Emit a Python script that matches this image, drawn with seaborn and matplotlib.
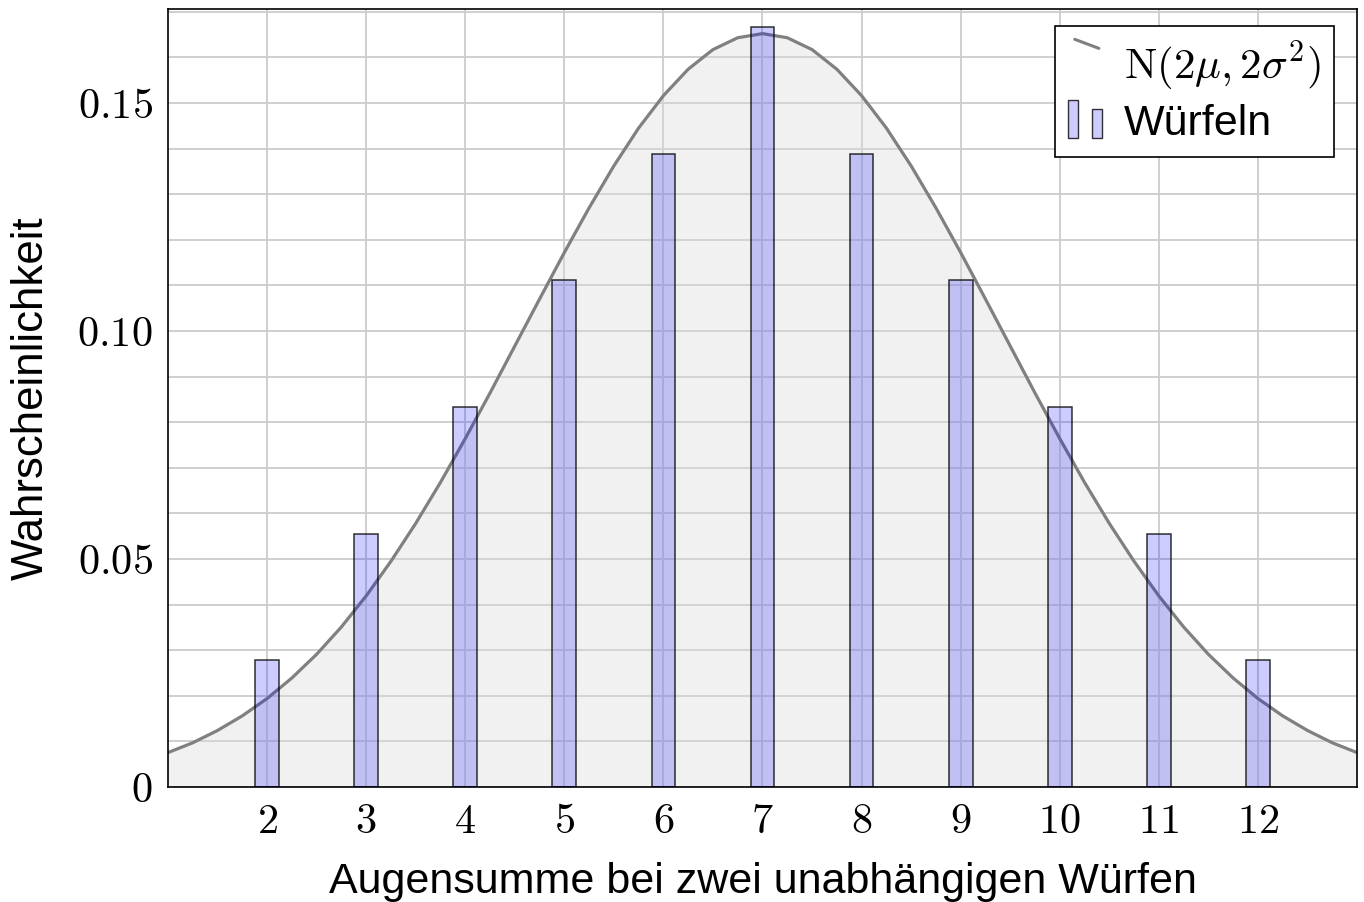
import numpy as np
import pandas as pd
import seaborn as sns
import matplotlib.pyplot as plt
from matplotlib.lines import Line2D
from matplotlib.patches import Rectangle
from matplotlib.legend_handler import HandlerBase

# ------------------------------------------------------------
# Daten
# ------------------------------------------------------------
augensumme = [2, 3, 4, 5, 6, 7, 8, 9, 10, 11, 12]
wahrsch = [1/36, 2/36, 3/36, 4/36, 5/36, 6/36, 5/36, 4/36, 3/36, 2/36, 1/36]

kurve_x = [1.0, 1.25, 1.5, 1.75, 2.0, 2.25, 2.5, 2.75, 3.0, 3.25, 3.5, 3.75,
           4.0, 4.25, 4.5, 4.75, 5.0, 5.25, 5.5, 5.75, 6.0, 6.25, 6.5, 6.75,
           7.0, 7.25, 7.5, 7.75, 8.0, 8.25, 8.5, 8.75, 9.0, 9.25, 9.5, 9.75,
           10.0, 10.25, 10.5, 10.75, 11.0, 11.25, 11.5, 11.75, 12.0, 12.25,
           12.5, 12.75, 13.0]
kurve_y = [0.00755, 0.0097, 0.0124, 0.0156, 0.0194, 0.0239, 0.0291, 0.0351,
           0.0419, 0.0495, 0.0578, 0.0668, 0.0764, 0.0864, 0.0967, 0.1070,
           0.1172, 0.1270, 0.1362, 0.1445, 0.1516, 0.1574, 0.1617, 0.1643,
           0.1652, 0.1643, 0.1617, 0.1574, 0.1516, 0.1445, 0.1362, 0.1270,
           0.1172, 0.1070, 0.0967, 0.0864, 0.0764, 0.0668, 0.0578, 0.0495,
           0.0419, 0.0351, 0.0291, 0.0239, 0.0194, 0.0156, 0.0124, 0.0097,
           0.00755]

ytick_werte = [0, 0.05, 0.10, 0.15]
ytick_text = ["$0$", "$0.05$", "$0.10$", "$0.15$"]

df_bar = pd.DataFrame({"x": augensumme, "p": wahrsch})
df_kurve = pd.DataFrame({"x": kurve_x, "y": kurve_y})

# ------------------------------------------------------------
# Stil
# ------------------------------------------------------------
sns.set_style("white")
plt.rcParams["font.family"] = ["Liberation Sans", "DejaVu Sans"]
plt.rcParams["mathtext.fontset"] = "cm"
for k in ["text.color", "axes.labelcolor", "xtick.color", "ytick.color"]:
    plt.rcParams[k] = "black"

BALKEN_FARBE = (0.0, 0.0, 1.0, 0.2)
RAND_FARBE = (0.0, 0.0, 0.0, 0.8)


class DiagonalHandler(HandlerBase):
    # pgfplots-artiges Legendensymbol: kurzer schraeger Strich
    def create_artists(self, legend, orig, xd, yd, w, h, fontsize, trans):
        ln = Line2D([xd + 0.2 * w, xd + 0.9 * w], [yd + 1.3 * h, yd + 1.0 * h],
                    color="#808080", lw=2.2, transform=trans)
        return [ln]


class ZweiBalkenHandler(HandlerBase):
    def create_artists(self, legend, orig, xd, yd, w, h, fontsize, trans):
        out = []
        for x0, bh in [(0.0, 1.25), (0.7, 0.95)]:
            r = Rectangle((xd + x0 * w, yd - 0.1 * h), 0.3 * w, bh * h,
                          facecolor=BALKEN_FARBE, edgecolor=RAND_FARBE, lw=1,
                          transform=trans)
            out.append(r)
        return out


fig = plt.figure(figsize=(13.64, 9.02), dpi=100)
ax = fig.add_axes([168 / 1364, 1 - 787 / 902, (1357 - 168) / 1364, (787 - 9) / 902])

# Flaeche und Kurve
ax.fill_between(df_kurve["x"], 0, df_kurve["y"], color="#dcdcdc", alpha=0.4,
                lw=0, zorder=1)
sns.lineplot(data=df_kurve, x="x", y="y", ax=ax, color="#808080", lw=2.3,
             zorder=2, legend=False, solid_joinstyle="round")

# Balken (seaborn, numerische x-Achse)
sns.barplot(data=df_bar, x="x", y="p", ax=ax, native_scale=True, width=0.24,
            color="blue", zorder=3)
for bar in ax.patches:
    bar.set_facecolor(BALKEN_FARBE)
    bar.set_edgecolor(RAND_FARBE)
    bar.set_linewidth(1.1)

ax.set_xlim(1, 13)
ax.set_ylim(0, 0.1706)
ax.set_xticks(augensumme)
ax.set_xticklabels(["$%d$" % v for v in augensumme])
ax.set_yticks(ytick_werte)
ax.set_yticklabels(ytick_text)
ax.set_yticks(np.arange(0, 0.171, 0.01), minor=True)
ax.tick_params(axis="both", which="both", length=0, labelsize=30.5, pad=11)

ax.grid(True, which="major", color="#cccccc", lw=1.3, zorder=0)
ax.grid(True, which="minor", axis="y", color="#cccccc", lw=1.3, zorder=0)
ax.set_axisbelow(True)

for s in ax.spines.values():
    s.set_color("black")
    s.set_linewidth(1.2)

ax.set_xlabel("Augensumme bei zwei unabhängigen Würfen", fontsize=31, labelpad=14)
ax.set_ylabel("Wahrscheinlichkeit", fontsize=31.5, labelpad=18)

h1 = Line2D([], [], color="#808080")
h2 = Rectangle((0, 0), 1, 1)
leg = ax.legend([h1, h2], [r"$\mathrm{N}(2\mu,2\sigma^2)$", "Würfeln"],
                handler_map={Line2D: DiagonalHandler(), Rectangle: ZweiBalkenHandler()},
                loc="upper right", bbox_to_anchor=(0.9805, 0.978), fontsize=31,
                frameon=True, fancybox=False, framealpha=1, edgecolor="black",
                handlelength=0.8, handletextpad=0.5, borderpad=0.3,
                labelspacing=0.25, borderaxespad=0)
leg.get_frame().set_linewidth(1.2)
for t in leg.get_texts():
    t.set_ha("center")

fig.savefig("out.png", dpi=100)
